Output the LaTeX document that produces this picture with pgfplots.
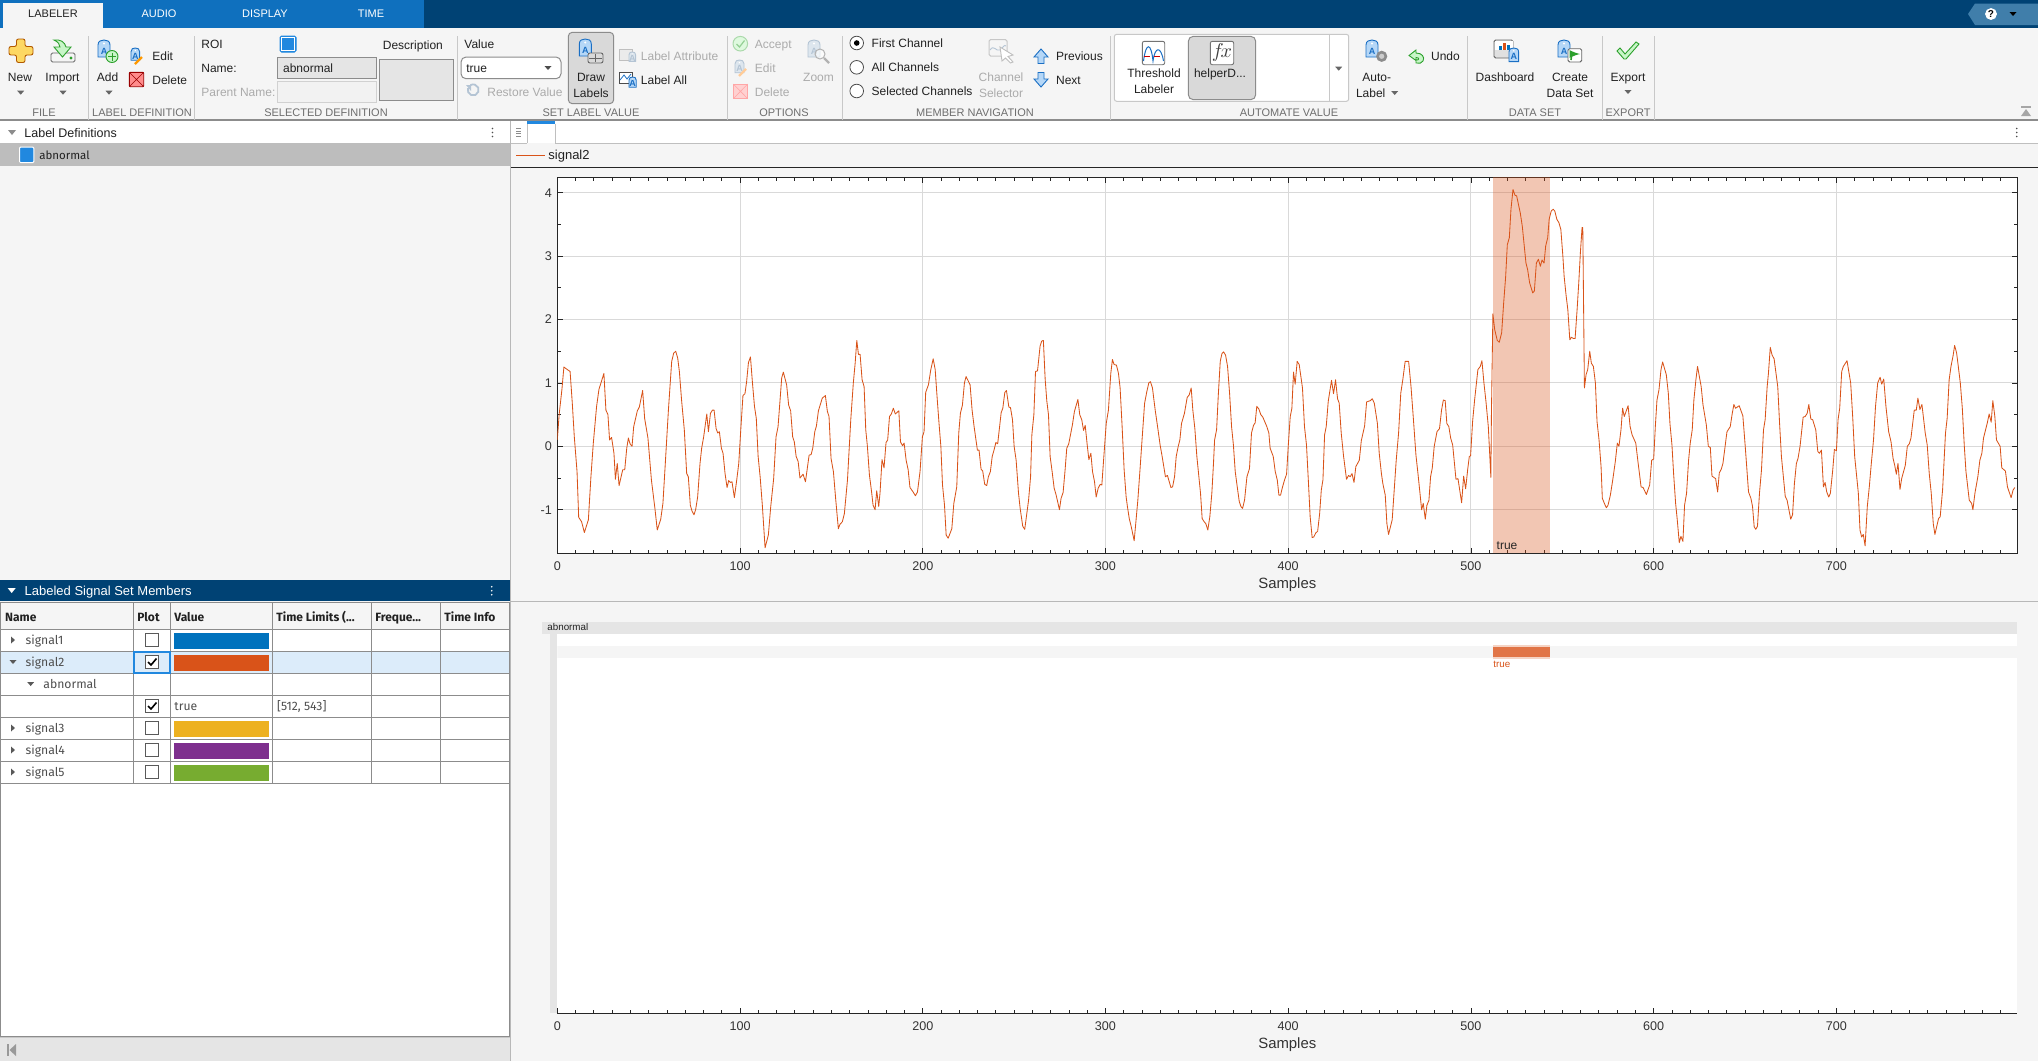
\documentclass[border=0pt]{standalone}
\usepackage{fontspec}
\setmainfont{Liberation Sans}
\newfontfamily\fira{Fira Sans}
\usepackage{pgfplots}
\pgfplotsset{compat=1.18}

\definecolor{cNavy}{HTML}{004274}
\definecolor{cTabs}{HTML}{0F70BE}
\definecolor{cBg}{HTML}{F5F5F5}
\definecolor{cTxt}{HTML}{212121}
\definecolor{cOff}{HTML}{ABABAB}
\definecolor{cGrp}{HTML}{6E6E6E}
\definecolor{cDiv}{HTML}{C8C8C8}
\definecolor{cLine}{HTML}{8C8C8C}
\definecolor{cSel}{HTML}{D9D9D9}
\definecolor{cBlue}{HTML}{2188DF}
\definecolor{cSigA}{HTML}{0072BD}
\definecolor{cSigB}{HTML}{D95319}
\definecolor{cSigC}{HTML}{EDB120}
\definecolor{cSigD}{HTML}{7E2F8E}
\definecolor{cSigE}{HTML}{77AC30}
\definecolor{cTagF}{HTML}{B5D7F7}
\definecolor{cTagD}{HTML}{1A6FC4}
\definecolor{cGrnF}{HTML}{C8F5C8}
\definecolor{cGrnD}{HTML}{2CA02C}
\definecolor{cOffF}{HTML}{DDE6EE}
\definecolor{cOffD}{HTML}{B4C4D4}

% text: anchor, x, y (mid height, px), colour, size (pt), text
\newcommand{\tx}[6]{\node[anchor=#1,text=#4,inner sep=0pt,font=\fontsize{#5}{#5}\selectfont]
  at ({#2},{#3+.72*#5}) {#6};}
\newcommand{\dn}[3]{\fill[#3] ({#1-3.5},{#2-2}) -- ({#1+3.5},{#2-2}) -- (#1,{#2+2}) -- cycle;}
\newcommand{\rt}[3]{\fill[#3] ({#1-2},{#2-3.5}) -- ({#1-2},{#2+3.5}) -- ({#1+2},#2) -- cycle;}
\newcommand{\kebab}[2]{\foreach \d in {-4,0,4}{\fill[cTxt!80] (#1,{#2+\d}) circle (.9);}}
\newcommand{\tagic}[5]{\begin{scope}[shift={(#1,#2)},scale=#3]
  \filldraw[fill=#4,draw=#5,line width=.45pt] (0,17) -- (0,5) .. controls (0,1) and (3,0) .. (6,0)
    .. controls (9,0) and (12,1) .. (12,5) -- (12,17) -- cycle;
  \fill[white] (6,3.5) circle (1.1);
  \node[text=#5,inner sep=0pt,font=\fontsize{4.5}{5}\selectfont\bfseries] at (6,11) {A};
  \end{scope}}
\newcommand{\cb}[2]{\filldraw[fill=white,draw=black!65,line width=.4pt] (145.3,{#1-6.7}) rectangle (158.7,{#1+6.7});
  \ifnum#2=1 \draw[black,line width=.8pt] (148,#1) -- (151,{#1+3}) -- (156.5,{#1-3.5});\fi}
\newcommand{\radio}[2]{\filldraw[fill=white,draw=black!70,line width=.4pt] (856.7,#1) circle (6.8);
  \ifnum#2=1 \fill[black] (856.7,#1) circle (2.8);\fi}

\begin{document}
\begin{tikzpicture}
\useasboundingbox (0,0) rectangle (1019pt,-530.5pt);

\begin{scope}[x=.5pt,y=-.5pt]
\fill[cBg] (0,0) rectangle (2038,1061);

% title bar and tabs
\fill[cNavy] (0,0) rectangle (2038,28);
\fill[cTabs] (0,0) rectangle (424,28);
\fill[cBg] (3,3) rectangle (103,28);
\tx{base}{53}{14}{cTxt}{5.5}{LABELER}
\tx{base}{159}{14}{white}{5.5}{AUDIO}
\tx{base}{265}{14}{white}{5.5}{DISPLAY}
\tx{base}{371}{14}{white}{5.5}{TIME}
\fill[cSigA!35!cNavy!75!white] (1975,3.5) -- (2038,3.5) -- (2038,25) -- (1975,25) -- (1968,14) -- cycle;
\filldraw[fill=white,draw=white] (1991,14) circle (5.5);
\tx{base}{1991}{14}{black}{5}{\textbf{?}}
\dn{2013}{14}{black}

% ribbon
\draw[cLine,line width=.7pt] (0,120) -- (2038,120);
\foreach \x in {88.5,194.5,457,727,842.5,1110,1467,1602.5,1654}{\draw[cDiv,line width=.5pt] (\x,36) -- (\x,120);}
\foreach \x/\t in {44/FILE,142/LABEL DEFINITION,326/SELECTED DEFINITION,591/SET LABEL VALUE,784/OPTIONS,975/MEMBER NAVIGATION,1289/AUTOMATE VALUE,1535/DATA SET,1628/EXPORT}{
  \tx{base}{\x}{113}{cGrp}{5.5}{\t}}

% file group
\filldraw[fill=yellow!55!orange!60!white,draw=orange!70!black,line width=.45pt,rounded corners=1pt]
  (16.5,39) -- (25,39) -- (25,46.5) -- (33,46.5) -- (33,55) -- (25,55) -- (25,62.5) -- (16.5,62.5) -- (16.5,55) -- (9,55) -- (9,46.5) -- (16.5,46.5) -- cycle;
\tx{base}{20}{77}{cTxt}{6}{New}
\dn{20.7}{92.7}{black!60}
\filldraw[fill=cBg,draw=black!60,line width=.45pt,rounded corners=.8pt] (51,53) rectangle (75,62);
\fill[cGrnD] (71,58) circle (1.6);
\filldraw[fill=cGrnF,draw=cGrnD,line width=.45pt] (54,40) .. controls (60,39) and (65,42) .. (66,47) -- (71,47) -- (62.5,57) -- (54,47) -- (60,47) .. controls (60,44) and (58,42) .. (54,40) -- cycle;
\tx{base}{62.5}{77}{cTxt}{6}{Import}
\dn{63}{92.7}{black!60}

% label definition group
\tagic{98}{40}{1}{cTagF}{cTagD}
\filldraw[fill=cGrnF,draw=cGrnD,line width=.45pt] (112,56.5) circle (6);
\draw[cGrnD,line width=.4pt] (108,56.5) -- (116,56.5) (112,52.5) -- (112,60.5);
\tx{base}{107.5}{77}{cTxt}{6}{Add}
\dn{109}{92.7}{black!60}
\tagic{131}{48}{.72}{cTagF}{cTagD}
\draw[orange!80!yellow,line width=1.2pt] (135,64) -- (142,57);
\tx{base west}{152}{56}{cTxt}{6}{Edit}
\filldraw[fill=red!45!white,draw=red!60!black,line width=.45pt,rounded corners=.5pt] (129.3,72.3) rectangle (143.7,86.7);
\draw[red!60!black,line width=.3pt] (129.3,72.3) -- (143.7,86.7) (129.3,86.7) -- (143.7,72.3);
\tx{base west}{152}{80}{cTxt}{6}{Delete}

% selected definition group
\tx{base west}{201}{44}{cTxt}{6}{ROI}
\filldraw[fill=cBlue,draw=cBlue,line width=.5pt,rounded corners=.8pt] (280,36) rectangle (296,52);
\draw[white,line width=.5pt] (281.5,37.5) rectangle (294.5,50.5);
\tx{base west}{201}{68}{cTxt}{6}{Name:}
\tx{base west}{201}{92}{cOff}{6}{Parent Name:}
\filldraw[fill=black!10,draw=cLine,line width=.5pt] (277,57.3) rectangle (376.7,78.7);
\tx{base west}{282.7}{68}{cTxt}{6}{abnormal}
\filldraw[fill=black!5,draw=black!18,line width=.5pt] (277,81.3) rectangle (376.7,102.7);
\tx{base west}{382.5}{45.5}{cTxt}{6}{Description}
\filldraw[fill=black!10,draw=cLine,line width=.5pt] (379.3,59.3) rectangle (453.7,100.7);

% set label value group
\tx{base west}{464}{44}{cTxt}{6}{Value}
\filldraw[fill=white,draw=cLine,line width=.5pt,rounded corners=2.5pt] (461,57) rectangle (561,78.7);
\tx{base west}{466}{68}{cTxt}{6}{true}
\dn{548}{68}{black!70}
\draw[cOffD,line width=.9pt] (468,88) arc (200:-120:5.5);
\fill[cOffD] (466,85) -- (471,85) -- (471,91) -- cycle;
\tx{base west}{487}{92}{cOff}{6}{Restore Value}
\filldraw[fill=cSel,draw=black!45,line width=.5pt,rounded corners=2pt] (568.3,32.3) rectangle (613.7,103.7);
\tagic{579.3}{39}{1}{cTagF}{cTagD}
\filldraw[fill=cSel,draw=black!60,line width=.45pt,rounded corners=1pt] (588,53) rectangle (603,63);
\draw[black!60,line width=.3pt] (595.5,54) -- (595.5,62) (589,58) -- (602,58);
\tx{base}{591}{77}{cTxt}{6}{Draw}
\tx{base}{591}{93}{cTxt}{6}{Labels}
\filldraw[fill=black!8,draw=black!25,line width=.45pt] (619,49) rectangle (632,60);
\tagic{629}{52}{.55}{cOffF}{cOffD}
\tx{base west}{640.5}{56}{cOff}{6}{Label Attribute}
\filldraw[fill=white,draw=black!70,line width=.45pt] (619,72) rectangle (632,83);
\draw[cTagD,line width=.4pt] (620,80) -- (624,75) -- (627,79) -- (631,74);
\tagic{629}{77}{.6}{cTagF}{cTagD}
\tx{base west}{640.5}{80}{cTxt}{6}{Label All}

% options group
\filldraw[fill=cGrnF!60!white,draw=cGrnD!40!white,line width=.5pt] (740.3,43.7) circle (7.3);
\draw[cGrnD!50!white,line width=.6pt] (736.5,44) -- (739.5,47) -- (744.5,40.5);
\tx{base west}{754.5}{44}{cOff}{6}{Accept}
\tagic{735}{60}{.75}{cOffF}{cOffD}
\draw[orange!40!white,line width=1.1pt] (739,76) -- (746,69);
\tx{base west}{754.5}{68}{cOff}{6}{Edit}
\filldraw[fill=red!18!white,draw=red!35!white,line width=.45pt] (733.3,84) rectangle (747.7,98.7);
\draw[red!35!white,line width=.3pt] (733.3,84) -- (747.7,98.7) (733.3,98.7) -- (747.7,84);
\tx{base west}{754.5}{92}{cOff}{6}{Delete}
\tagic{808}{40}{1}{cOffF}{cOffD}
\filldraw[fill=white,fill opacity=.6,draw=black!30,line width=.5pt] (820,54) circle (5);
\draw[black!30,line width=1.1pt] (824,58) -- (829,63);
\tx{base}{818.5}{77}{cOff}{6}{Zoom}

% member navigation group
\radio{43}{1}
\radio{67.3}{0}
\radio{91}{0}
\tx{base west}{871.3}{43}{cTxt}{6}{First Channel}
\tx{base west}{871.3}{67}{cTxt}{6}{All Channels}
\tx{base west}{871.3}{91}{cTxt}{6}{Selected Channels}
\draw[black!22,line width=.5pt,rounded corners=.8pt] (989,39.5) rectangle (1007,56);
\draw[cOffD,line width=.45pt] (990,50) .. controls (994,44) and (996,52) .. (1000,50) .. controls (1003,48) and (1004,44) .. (1006,46);
\filldraw[fill=white,draw=black!25,line width=.45pt] (1000,47) -- (1013,55) -- (1008,56.5) -- (1013,62) -- (1010.5,63) -- (1005.5,58) -- (1002,61) -- cycle;
\tx{base}{1001}{77}{cOff}{6}{Channel}
\tx{base}{1001}{93}{cOff}{6}{Selector}
\filldraw[fill=cTagF,draw=cTagD,line width=.45pt] (1041,49) -- (1048,57) -- (1044,57) -- (1044,63.5) -- (1038,63.5) -- (1038,57) -- (1034,57) -- cycle;
\filldraw[fill=cTagF,draw=cTagD,line width=.45pt] (1041,87) -- (1048,79) -- (1044,79) -- (1044,72.5) -- (1038,72.5) -- (1038,79) -- (1034,79) -- cycle;
\tx{base west}{1055.7}{56}{cTxt}{6}{Previous}
\tx{base west}{1055.7}{80}{cTxt}{6}{Next}

% automate value group
\filldraw[fill=white,draw=cDiv,line width=.5pt,rounded corners=1.2pt] (1114.3,34.3) rectangle (1348.7,101.3);
\draw[cDiv,line width=.5pt] (1329.7,34.3) -- (1329.7,101.3);
\dn{1338.7}{68.7}{black!60}
\filldraw[fill=white,draw=black!55,line width=.45pt,rounded corners=1pt] (1142.3,41.3) rectangle (1164.7,64.7);
\draw[cTagD,line width=.5pt] (1143.5,61) .. controls (1146,42) and (1151,42) .. (1153,61) .. controls (1155,46) and (1161,46) .. (1163.5,61);
\draw[red!80!black,line width=.45pt,densely dashed] (1143.5,56.7) -- (1163.5,56.7);
\tx{base}{1154}{72.7}{cTxt}{6}{Threshold}
\tx{base}{1154}{88.7}{cTxt}{6}{Labeler}
\filldraw[fill=cSel,draw=black!45,line width=.5pt,rounded corners=2.5pt] (1188.3,36.3) rectangle (1255.7,99.7);
\filldraw[fill=white,draw=black!55,line width=.45pt,rounded corners=1pt] (1210.3,41.3) rectangle (1233.7,64.7);
\node[inner sep=0pt,text=black!75,font=\fontsize{10}{10}\selectfont] at (1222,52.5) {$f\!x$};
\tx{base}{1220}{72.7}{cTxt}{6}{helperD...}
\tagic{1366}{40}{1}{cTagF}{cTagD}
\fill[black!45] (1381.7,56.3) circle (5.6);
\fill[black!20] (1381.7,56.3) circle (2.6);
\tx{base}{1376.7}{77}{cTxt}{6}{Auto-}
\tx{base}{1370.7}{93}{cTxt}{6}{Label}
\dn{1394.7}{93}{black!60}
\filldraw[fill=cGrnF,draw=cGrnD,line width=.45pt] (1409,55.5) -- (1416,50) -- (1416,53) .. controls (1422,53) and (1425,57) .. (1423,61) .. controls (1422,63) and (1419,64) .. (1416,63) -- (1416,60) .. controls (1419,60.5) and (1420,57.5) .. (1416,57.5) -- (1416,60.5) -- cycle;
\tx{base west}{1430.7}{56}{cTxt}{6}{Undo}

% data set group
\filldraw[fill=black!12,draw=black!60,line width=.45pt,rounded corners=.8pt] (1494,40) rectangle (1513,58);
\fill[white] (1494.5,40.5) rectangle (1512.5,50);
\fill[cSigB] (1503,43) rectangle (1506,50);
\fill[cSigA] (1499,46) rectangle (1502,50);
\fill[cSigA] (1507,45) rectangle (1510,50);
\tagic{1509}{48}{.8}{cTagF}{cTagD}
\tx{base}{1505}{77}{cTxt}{6}{Dashboard}
\tagic{1558}{40}{1}{cTagF}{cTagD}
\filldraw[fill=white,draw=black!60,line width=.45pt,rounded corners=.8pt] (1568,48.7) rectangle (1581.7,62);
\draw[cGrnD,line width=.8pt,-latex] (1571,60) .. controls (1571,54) and (1574,54) .. (1580,54);
\tx{base}{1570}{77}{cTxt}{6}{Create}
\tx{base}{1570}{93}{cTxt}{6}{Data Set}

% export group
\filldraw[fill=cGrnF,draw=cGrnD,line width=.45pt] (1617,51) -- (1620,48) -- (1625,54) -- (1636,42) -- (1639,44) -- (1626,59) -- (1624,59) -- cycle;
\tx{base}{1628}{77}{cTxt}{6}{Export}
\dn{1628}{92}{black!60}
\fill[black!35] (2021,106) rectangle (2031,108);
\fill[black!35] (2021,116) -- (2031,116) -- (2026,109) -- cycle;

% label definitions panel
\fill[white] (0,121) rectangle (510,143);
\fill[black!45] (8,130) -- (16,130) -- (12,135) -- cycle;
\tx{base west}{24}{132.5}{cTxt}{6.25}{Label Definitions}
\kebab{492.5}{132.5}
\fill[black!26] (0,143) rectangle (510,166);
\filldraw[fill=cBlue,draw=white,line width=.5pt,rounded corners=.6pt] (19.5,147) rectangle (33.8,162.7);
\tx{base west}{39}{155.5}{cTxt}{5.75}{\fira abnormal}

% member table
\fill[cNavy] (0,580) rectangle (510,600.7);
\fill[white] (7.7,588) -- (15.7,588) -- (11.7,593) -- cycle;
\tx{base west}{24.3}{590.7}{white}{6.5}{Labeled Signal Set Members}
\foreach \d in {-4,0,4}{\fill[white] (491.7,{590.7+\d}) circle (.9);}
\fill[white] (.7,602.3) rectangle (509.5,1036);
\fill[cBg] (.7,602.3) rectangle (509.5,629.3);
\fill[cBlue!16!white] (.7,651.3) rectangle (509.5,673.3);
\foreach \y in {602.3,629.3,651.3,673.3,695.3,717.3,739.3,761.3,783.3}{\draw[cLine,line width=.5pt] (.7,\y) -- (509.5,\y);}
\foreach \x in {133.5,170.5,272.5,371.5,440.5}{\draw[cLine,line width=.5pt] (\x,602.3) -- (\x,783.3);}
\draw[cLine,line width=.5pt] (.7,602.3) rectangle (509.5,1036);
\draw[cDiv,line width=.5pt] (0,1037.5) -- (510,1037.5);
\fill[black!10] (0,1038) rectangle (510,1061);
\fill[black!40] (7,1044) rectangle (8.5,1056);
\fill[black!40] (9.5,1050) -- (16,1044) -- (16,1056) -- cycle;
\tx{base west}{4.7}{616.7}{cTxt}{6}{\fira\bfseries Name}
\tx{base west}{137}{616.7}{cTxt}{6}{\fira\bfseries Plot}
\tx{base west}{174}{616.7}{cTxt}{6}{\fira\bfseries Value}
\tx{base west}{276}{616.7}{cTxt}{6}{\fira\bfseries Time Limits (...}
\tx{base west}{375}{616.7}{cTxt}{6}{\fira\bfseries Freque...}
\tx{base west}{444}{616.7}{cTxt}{6}{\fira\bfseries Time Info}
\foreach \y/\t in {640/signal1,662/signal2,728/signal3,750/signal4,772/signal5}{
  \tx{base west}{25.3}{\y}{cTxt!80}{6.1}{\fira \t}}
\tx{base west}{43}{684}{cTxt!80}{6.1}{\fira abnormal}
\tx{base west}{174}{706}{cTxt!80}{6.1}{\fira true}
\tx{base west}{276.7}{706}{cTxt!80}{6.1}{\fira [512, 543]}
\rt{13}{640}{black!65}
\dn{13}{662}{black!65}
\dn{30.7}{684}{black!65}
\rt{13}{728}{black!65}
\rt{13}{750}{black!65}
\rt{13}{772}{black!65}
\fill[cSigA] (174,633) rectangle (269,649);
\fill[cSigB] (174,655) rectangle (269,671);
\fill[cSigC] (174,721) rectangle (269,737);
\fill[cSigD] (174,743) rectangle (269,759);
\fill[cSigE] (174,765) rectangle (269,781);
\cb{640}{0}
\draw[cBlue,line width=.7pt] (134,651.8) rectangle (170,672.8);
\cb{662}{1}
\cb{706}{1}
\cb{728}{0}
\cb{750}{0}
\cb{772}{0}

% right pane
\draw[black!28,line width=.5pt] (510.5,121) -- (510.5,1061);
\fill[white] (511,121) rectangle (2038,143);
\draw[black!25,line width=.5pt] (511,143) -- (527,143) (555,143) -- (2038,143);
\draw[black!25,line width=.4pt] (527,124) -- (527,143) (555,124) -- (555,143);
\fill[cBlue] (527,121) rectangle (555,124);
\foreach \y in {128.5,131,133.5,136}{\draw[black!45,line width=.35pt] (516,\y) -- (521,\y);}
\kebab{2016.7}{132.5}
\draw[cSigB,line width=.5pt] (516,155) -- (545,155);
\tx{base west}{548}{155}{cTxt}{6.5}{signal2}
\draw[black!85,line width=.5pt] (511,167) -- (2038,167);
\fill[white] (557.3,177.3) rectangle (2017.3,553.3);
\draw[black!28,line width=.5pt] (511,601) -- (2038,601);

% lower panel frame
\fill[white] (557,634) rectangle (2017.3,1013.3);
\fill[black!10] (542,622) rectangle (2016.6,634);
\fill[black!10] (550,634) rectangle (557,1013.3);
\tx{base west}{547}{627}{cTxt}{4.9}{abnormal}
\end{scope}

% signal axis
\begin{axis}[
  at={(278.65pt,-276.65pt)}, anchor=south west,
  scale only axis, width=730pt, height=188pt,
  xmin=0, xmax=799, ymin=-1.688, ymax=4.243,
  xtick distance=100, ytick={-1,0,1,2,3,4},
  minor x tick num=9, minor y tick num=1,
  tick align=inside,
  major tick length=2.8pt, minor tick length=1.7pt,
  grid=major,
  grid style={color=black!15,line width=.5pt},
  axis line style={color=black!85,line width=.55pt},
  every tick/.style={color=black!85,line width=.4pt},
  /pgf/number format/assume math mode=true,
  tick label style={inner sep=0pt,text=black!80,font=\fontsize{6.3}{7}\selectfont},
  xticklabel style={yshift=-4pt},
  yticklabel style={xshift=-2.5pt},
  xlabel={Samples},
  every axis x label/.style={at={(axis description cs:0.5,0)},anchor=center,yshift=-15.5pt,text=black!80,font=\fontsize{7.45}{8}\selectfont},
]
\addplot[draw=none,fill=cSigB,fill opacity=.33,forget plot] coordinates {(512,-1.688) (543,-1.688) (543,4.243) (512,4.243)} -- cycle;
\addplot[color=cSigB,line width=.42pt,line join=round,mark=none] coordinates {
(0,.10)(1,.5)(2.5,.89)(3.6,1.25)(5.5,1.21)(7,1.18)(8.2,.68)(9.3,.15)(10.8,-.40)(11.7,-1.12)(13.3,-1.19)(14.8,-1.36)(17,-1.16)(18.4,-.48)(19.7,.05)
(21.5,.63)(22.8,.90)(23.9,1.0)(25.5,1.15)(26.6,.57)(27.7,.5)(28.6,.10)(29.7,.14)(31,-.11)(31.8,-.52)(32.8,-.27)(33.8,-.62)(35.8,-.37)(36.9,-.37)(38,-.03)(38.9,.13)(39.8,.04)
(40.9,0)(41.8,.31)(43.8,.56)(44.9,.62)(46.7,.88)(47.8,.44)(49.6,.13)(51.5,-.53)(53.5,-1.0)(54.7,-1.32)(56.6,-1.15)(57.8,-.9)(59,-.32)
(60.8,.57)(62.6,1.34)(63.7,1.47)(64.8,1.50)(65.9,1.39)(66.8,1.18)(68,.73)(69.5,.26)(70.8,-.43)(71.7,-.48)(72.8,-.93)(73.7,-1.02)(74.8,-1.08)(75.7,-1.0)(76.8,-.8)(78.1,-.27)(79,-.03)
(80.1,.15)(81.8,.51)(82.7,.23)(83.8,.52)(84.9,.57)(85.8,.57)(86.9,.28)(87.8,.21)(88.7,.23)(89.8,-.03)(90.7,-.11)(91.8,-.43)(92.9,-.65)(93.8,-.54)(94.7,-.57)(95.6,-.56)(96.9,-.81)(98.2,-.53)(99.3,-.27)
(100.4,.26)(101.6,.80)(102.7,.83)(103.6,1.02)(104.6,1.32)(105.7,1.41)(106.8,1.0)(107.9,.63)(108.9,.44)(109.9,-.16)(111,-.48)(112.2,-.93)(113.7,-1.60)(115.5,-1.40)(116.8,-.95)(118.4,-.51)(119.7,.15)
(120.8,.31)(121.9,.73)(122.8,1.08)(123.7,1.17)(125.5,.97)(126.6,.65)(127.7,.56)(128.8,.15)(129.7,.07)(130.7,-.16)(131.8,-.24)(132.8,-.5)(134.5,-.44)(135.8,-.56)(137.8,-.14)(138.9,-.13)(139.8,-.03)
(140.9,.23)(141.8,.32)(142.9,.56)(145,.76)(146.7,.80)(147.8,.55)(148.7,.47)(149.8,-.19)(151.1,-.40)(152.4,-.85)(153.8,-1.30)(154.7,-1.23)(156,-1.19)(157.1,-1.06)(158.8,-.53)
(160.6,.42)(162,1.0)(163,1.31)(163.9,1.67)(164.8,1.45)(165.7,1.45)(166.8,1.05)(167.9,.94)(168.8,.26)(169.7,0)(170.8,-.45)(172,-.72)(172.8,-.93)(173.9,-1.0)(174.8,-.70)(175.9,-.95)(176.6,-.74)(177.7,-.21)(178.8,-.34)(179.9,.06)
(180.8,.10)(181.8,.47)(182.8,.51)(183.9,.60)(185,.51)(186.9,.56)(187.8,.07)(188.9,.01)(189.8,.05)(190.9,-.22)(192,-.37)(193,-.65)(194.7,-.72)(196,-.78)(197.1,-.72)(198.5,-.40)(199.8,.15)
(200.7,.23)(201.6,.85)(203.1,.97)(204.4,1.21)(205.7,1.38)(206.8,1.21)(207.8,.79)(208.9,.36)(209.9,0)(210.8,-.61)(211.9,-.93)(212.8,-1.40)(213.9,-1.45)(215.9,-1.30)(217,-.90)(218.6,-.64)(219.7,.21)
(220.6,.52)(221.7,.65)(222.8,1.0)(223.7,1.10)(225.9,.97)(227,.57)(228.1,.31)(229.9,-.06)(230.8,-.06)(231.9,-.36)(232.8,-.39)(233.9,-.60)(235,-.62)(235.9,-.48)(237,-.40)(238,-.16)(239,-.06)
(240,.06)(241,.04)(242.9,.53)(243.8,.60)(244.9,.85)(245.8,.88)(247.1,.62)(248,.61)(249.1,.42)(250,0)(251.1,-.22)(252.4,-.74)(253.3,-.98)(254.7,-1.26)(255.8,-1.31)(257.9,-.85)(259,-.48)
(259.7,.18)(260.8,.50)(261.7,1.18)(262.8,1.19)(264.2,1.58)(265.1,1.66)(266,1.67)
(267,1.05)(267.9,.71)(268.8,.50)(269.7,-.16)(270.8,-.40)(271.9,-.66)(273,-.77)(274.8,-1.0)(275.7,-.82)(276.8,-.73)(277.9,-.37)(278.8,-.03)(279.9,.04)
(281.9,.34)(283,.55)(284.9,.74)(285.9,.50)(287,.42)(288,.25)(288.9,.33)(290,.02)(290.9,-.21)(292,-.11)(292.9,-.40)(294,-.56)(294.9,-.80)(296,-.66)(297.1,-.60)(298,-.61)(299.1,-.16)
(300.4,.36)(301.6,.57)(302.9,1.15)(303.8,1.37)(304.7,1.29)(306,1.28)(307.1,1.15)(308,.92)(309.1,.31)(310.2,-.37)(311.3,-.80)(312,-.95)(313,-1.14)(314.1,-1.27)(315.7,-1.49)(317.7,-.85)(319,-.32)
(320,.10)(321.4,.68)(322.6,.86)(323.7,1.0)(324.6,1.02)(325.7,.92)(327.2,.57)(328.5,.31)(329.9,.02)(331,-.16)(332.8,-.48)(333.9,-.46)(335.8,-.65)(336.7,-.64)(337.8,-.48)(338.7,-.16)(339.8,0)
(340.7,.10)(341.6,.36)(343.2,.52)(344.7,.77)(345.8,.81)(346.9,.92)(347.8,.57)(348.9,.28)(350,-.16)(351.1,-.48)(352,-.74)(352.9,-1.14)(354,-1.19)(354.9,-1.22)(356,-1.32)(357.1,-1.11)(358.2,-.74)(359.1,-.27)
(359.7,.10)(360.8,.26)(361.7,.79)(362.8,1.34)(363.7,1.46)(364.6,1.49)(365.7,1.44)(366.8,1.26)(367.9,.84)(369,.31)(370,.02)(371,-.40)(372.1,-.64)(373.2,-.87)(374.1,-.95)(375,-.98)(376.1,-.85)(377.4,-.48)(378.8,-.35)
(379.9,.21)(381,.33)(381.9,.37)(382.8,.63)(383.9,.59)(385,.50)(386.1,.46)(388.3,.31)(389.4,.21)(390.1,-.03)(391.8,-.16)(392.9,-.40)(394,-.53)(394.9,-.77)(395.8,-.77)(396.9,-.64)(398,-.53)(399.1,-.44)
(400,0)(401.1,.47)(402,.60)(402.9,1.17)(403.8,.98)(404.9,1.34)(406,1.29)(407.8,.92)(408.9,.31)(410,.02)(411.1,-.59)(412,-1.11)(413.1,-1.44)(414,-1.43)(415,-1.37)(416.1,-1.34)(417.2,-1.06)(418.1,-.69)(419,-.53)
(419.9,.18)(420.8,.31)(421.9,.71)(423.7,1.04)(424.8,.83)(425.9,1.05)(427,.75)(427.9,.68)(429,.21)(430.3,-.16)(431.9,-.52)(433,-.46)(433.9,-.48)(434.9,-.43)(436,-.57)(437,-.32)(438.9,-.22)
(440,.09)(441.8,.32)(442.9,.70)(444.9,.72)(446,.75)(447.1,.68)(448.8,.36)(449.8,-.11)(451,-.43)(451.8,-.59)(453.1,-.77)(454,-1.22)(454.9,-1.39)(456.9,-1.16)(458,-.69)(459.1,-.22)
(460.4,.21)(461.6,.84)(462.7,1.05)(464,1.34)(465.9,1.34)(467.2,.94)(468.4,.47)(469.9,-.14)(471,-.43)(472.1,-.74)(473,-1.0)(473.9,-.90)(475,-1.15)(475.9,-.93)(477,-.85)(477.9,-.48)(478.8,-.35)(479.9,0)
(481.4,.23)(482.8,.28)(483.9,.57)(484.9,.73)(485.9,.72)(486.8,.36)(487.9,.31)(488.9,.13)(490,.02)(491.8,-.52)(492.9,-.51)(494.9,-.89)(496,-.47)(497.1,-.67)(498.2,-.37)(499.1,-.16)(499.8,-.15)
(500.9,.39)(502,.73)(503.8,1.21)(505.1,1.26)(506,1.35)(507.1,1.0)(508.2,.71)(509.5,.31)(510.9,-.49)(511.2,.5)(512,2.09)
(513,1.84)(514.4,1.67)(515.5,1.64)(516.8,1.79)(517.9,2.26)(519,2.68)(519.9,3.18)(521,3.29)(521.9,3.74)(523,4.05)(524.1,3.96)(525,3.95)(527,3.68)(528.1,3.47)(529,3.21)
(530.1,2.89)(531,2.79)(532.1,2.58)(533.8,2.42)(534.7,2.45)(535.8,2.89)(536.9,2.95)(538,2.84)(538.9,2.94)(540,2.89)(540.9,3.16)(542,3.29)(542.8,3.58)(543.9,3.71)(545,3.74)(545.9,3.71)(547,3.58)(548.1,3.53)(549.2,3.42)
(550.3,3.0)(551,2.68)(552.1,2.37)(553,2.16)(554.1,1.68)(555,1.72)(556.1,1.70)(557,1.70)(558.1,2.16)(559,2.58)(559.9,3.06)(560.8,3.45)(561.2,3.45)(562.1,.92)(563,1.13)(563.9,1.21)(565,1.50)(565.9,1.31)(567,1.26)(568.1,1.0)(569,.39)
(570.1,.10)(571.2,-.32)(571.9,-.82)(573,-.90)(574.1,-.97)(575,-.93)(576.3,-.77)(577.6,-.53)(579,-.24)(580.1,.05)(581,0)(582.1,.26)(583,.60)(583.9,.47)(586,.64)(587.1,.31)(588.2,.18)
(590.2,.05)(591.3,-.22)(593.1,-.64)(594.2,-.65)(596,-.76)(597.8,-.61)(598.9,-.22)(600,-.2)(600.9,.31)(601.8,.73)(602.9,.89)(604,1.21)(604.9,1.33)(606.9,1.13)(608,.84)(608.9,.36)
(610,.02)(610.9,-.43)(612,-.90)(612.9,-1.16)(614,-1.52)(614.9,-1.42)(616,-1.50)(616.9,-.93)(618,-.74)(619.1,-.22)(620,.05)(621.1,.26)(622,.73)(623.1,1.05)(624,1.26)(626,.94)(627,.65)(628.8,.34)(629.9,0)
(631,-.02)(631.9,-.47)(633.9,-.51)(635,-.72)(635.9,-.42)(637,-.36)(637.9,-.27)(640.1,.23)(641.9,.31)(643,.52)(643.9,.66)(644.8,.60)(646.8,.64)(648.8,.48)(650.1,0)(651.9,-.72)(653.2,-.82)
(654.1,-.95)(655,-1.27)(655.9,-1.31)(656.8,-1.26)(657.9,-.74)(659,-.37)(660.1,.26)(661,.42)(662.1,.94)(662.8,1.15)(663.8,1.56)(664.8,1.44)(665.9,1.38)(667.9,.94)(668.9,.36)(669.9,-.16)
(672,-.79)(673,-.85)(674,-1.0)(675,-1.15)(676,-1.08)(677,-.59)(678.1,-.27)(679,-.19)(680.1,0)(681.8,.46)(682.9,.47)(684,.52)(684.9,.66)(686,.43)(687,.42)(688.7,.26)(689.8,-.08)
(690.7,-.11)(691.8,-.06)(692.9,-.64)(693.8,-.57)(694.7,-.72)(695.8,-.80)(696.7,-.74)(698,-.37)(698.9,-.05)(700,-.07)(700.9,.42)(701.8,.60)(702.9,1.18)(703.8,1.26)(705.8,1.35)(707.8,1.0)(708.9,.47)
(710,-.16)(712,-.74)(712.9,-1.32)(713.8,-1.43)(714.7,-1.39)(715.7,-1.57)(716.9,-.95)(718,-.64)(719.1,-.27)(720.3,.10)(721.4,.63)(722.6,1.0)(723.9,1.09)(724.8,.98)(725.9,1.06)(727.1,.63)(728.6,.23)(729.9,.07)
(731,-.19)(731.9,-.30)(732.8,-.44)(733.7,-.27)(734.8,-.68)(735.7,-.51)(737.7,-.30)(738.8,0)(739.9,.04)(740.8,.13)(742.6,.57)(743.7,.57)(744.6,.76)(745.7,.58)(746.8,.66)(748.6,.21)(749.7,.02)
(750.8,-.43)(751.9,-.74)(753,-1.22)(753.9,-1.39)(755.9,-1.14)(756.8,-1.11)(758.1,-.69)(759.7,.21)(760.6,.44)(761.7,1.05)(762.7,1.26)(763.8,1.42)(764.7,1.59)(765.8,1.47)(767.8,1.0)(768.9,.60)
(770,0)(770.9,-.40)(772.7,-.85)(774,-.90)(774.7,-1.0)(775.8,-.74)(777.4,-.48)(778.5,-.22)(779.6,-.11)(780.5,.13)(782.5,.36)(783.6,.51)(784.7,.38)(785.6,.72)(786.7,.47)(787.6,.10)(789.6,0)
(790.5,-.34)(792.5,-.39)(793.6,-.64)(795.6,-.81)(796.7,-.69)(797.6,-.65)
};
\end{axis}

% label track axis, y in px above the axis line
\begin{axis}[
  at={(278.65pt,-506.65pt)}, anchor=south west,
  scale only axis, width=730pt, height=189.65pt,
  xmin=0, xmax=799, ymin=0, ymax=379.3,
  axis x line*=bottom, axis y line=none,
  xtick distance=100, minor x tick num=9,
  tick align=inside,
  major tick length=2.8pt, minor tick length=1.7pt,
  axis line style={color=black!85,line width=.55pt},
  every tick/.style={color=black!85,line width=.4pt},
  /pgf/number format/assume math mode=true,
  tick label style={inner sep=0pt,text=black!80,font=\fontsize{6.3}{7}\selectfont},
  xticklabel style={yshift=-4pt},
  xlabel={Samples},
  every axis x label/.style={at={(axis description cs:0.5,0)},anchor=center,yshift=-15.5pt,text=black!80,font=\fontsize{7.45}{8}\selectfont},
]
\addplot[draw=none,fill=cBg] coordinates {(0,355.3) (799,355.3) (799,367.3) (0,367.3)} -- cycle;
\addplot[draw=none,fill=cSigB!25!white] coordinates {(512,354.3) (543,354.3) (543,368.3) (512,368.3)} -- cycle;
\addplot[draw=none,fill=cSigB!80!white] coordinates {(512,356.3) (543,356.3) (543,366.3) (512,366.3)} -- cycle;
\end{axis}

\begin{scope}[x=.5pt,y=-.5pt]
\tx{base west}{1496.3}{545}{black!85}{6}{true}
\tx{base west}{1493}{664}{cSigB}{4.9}{true}
\end{scope}
\end{tikzpicture}
\end{document}
